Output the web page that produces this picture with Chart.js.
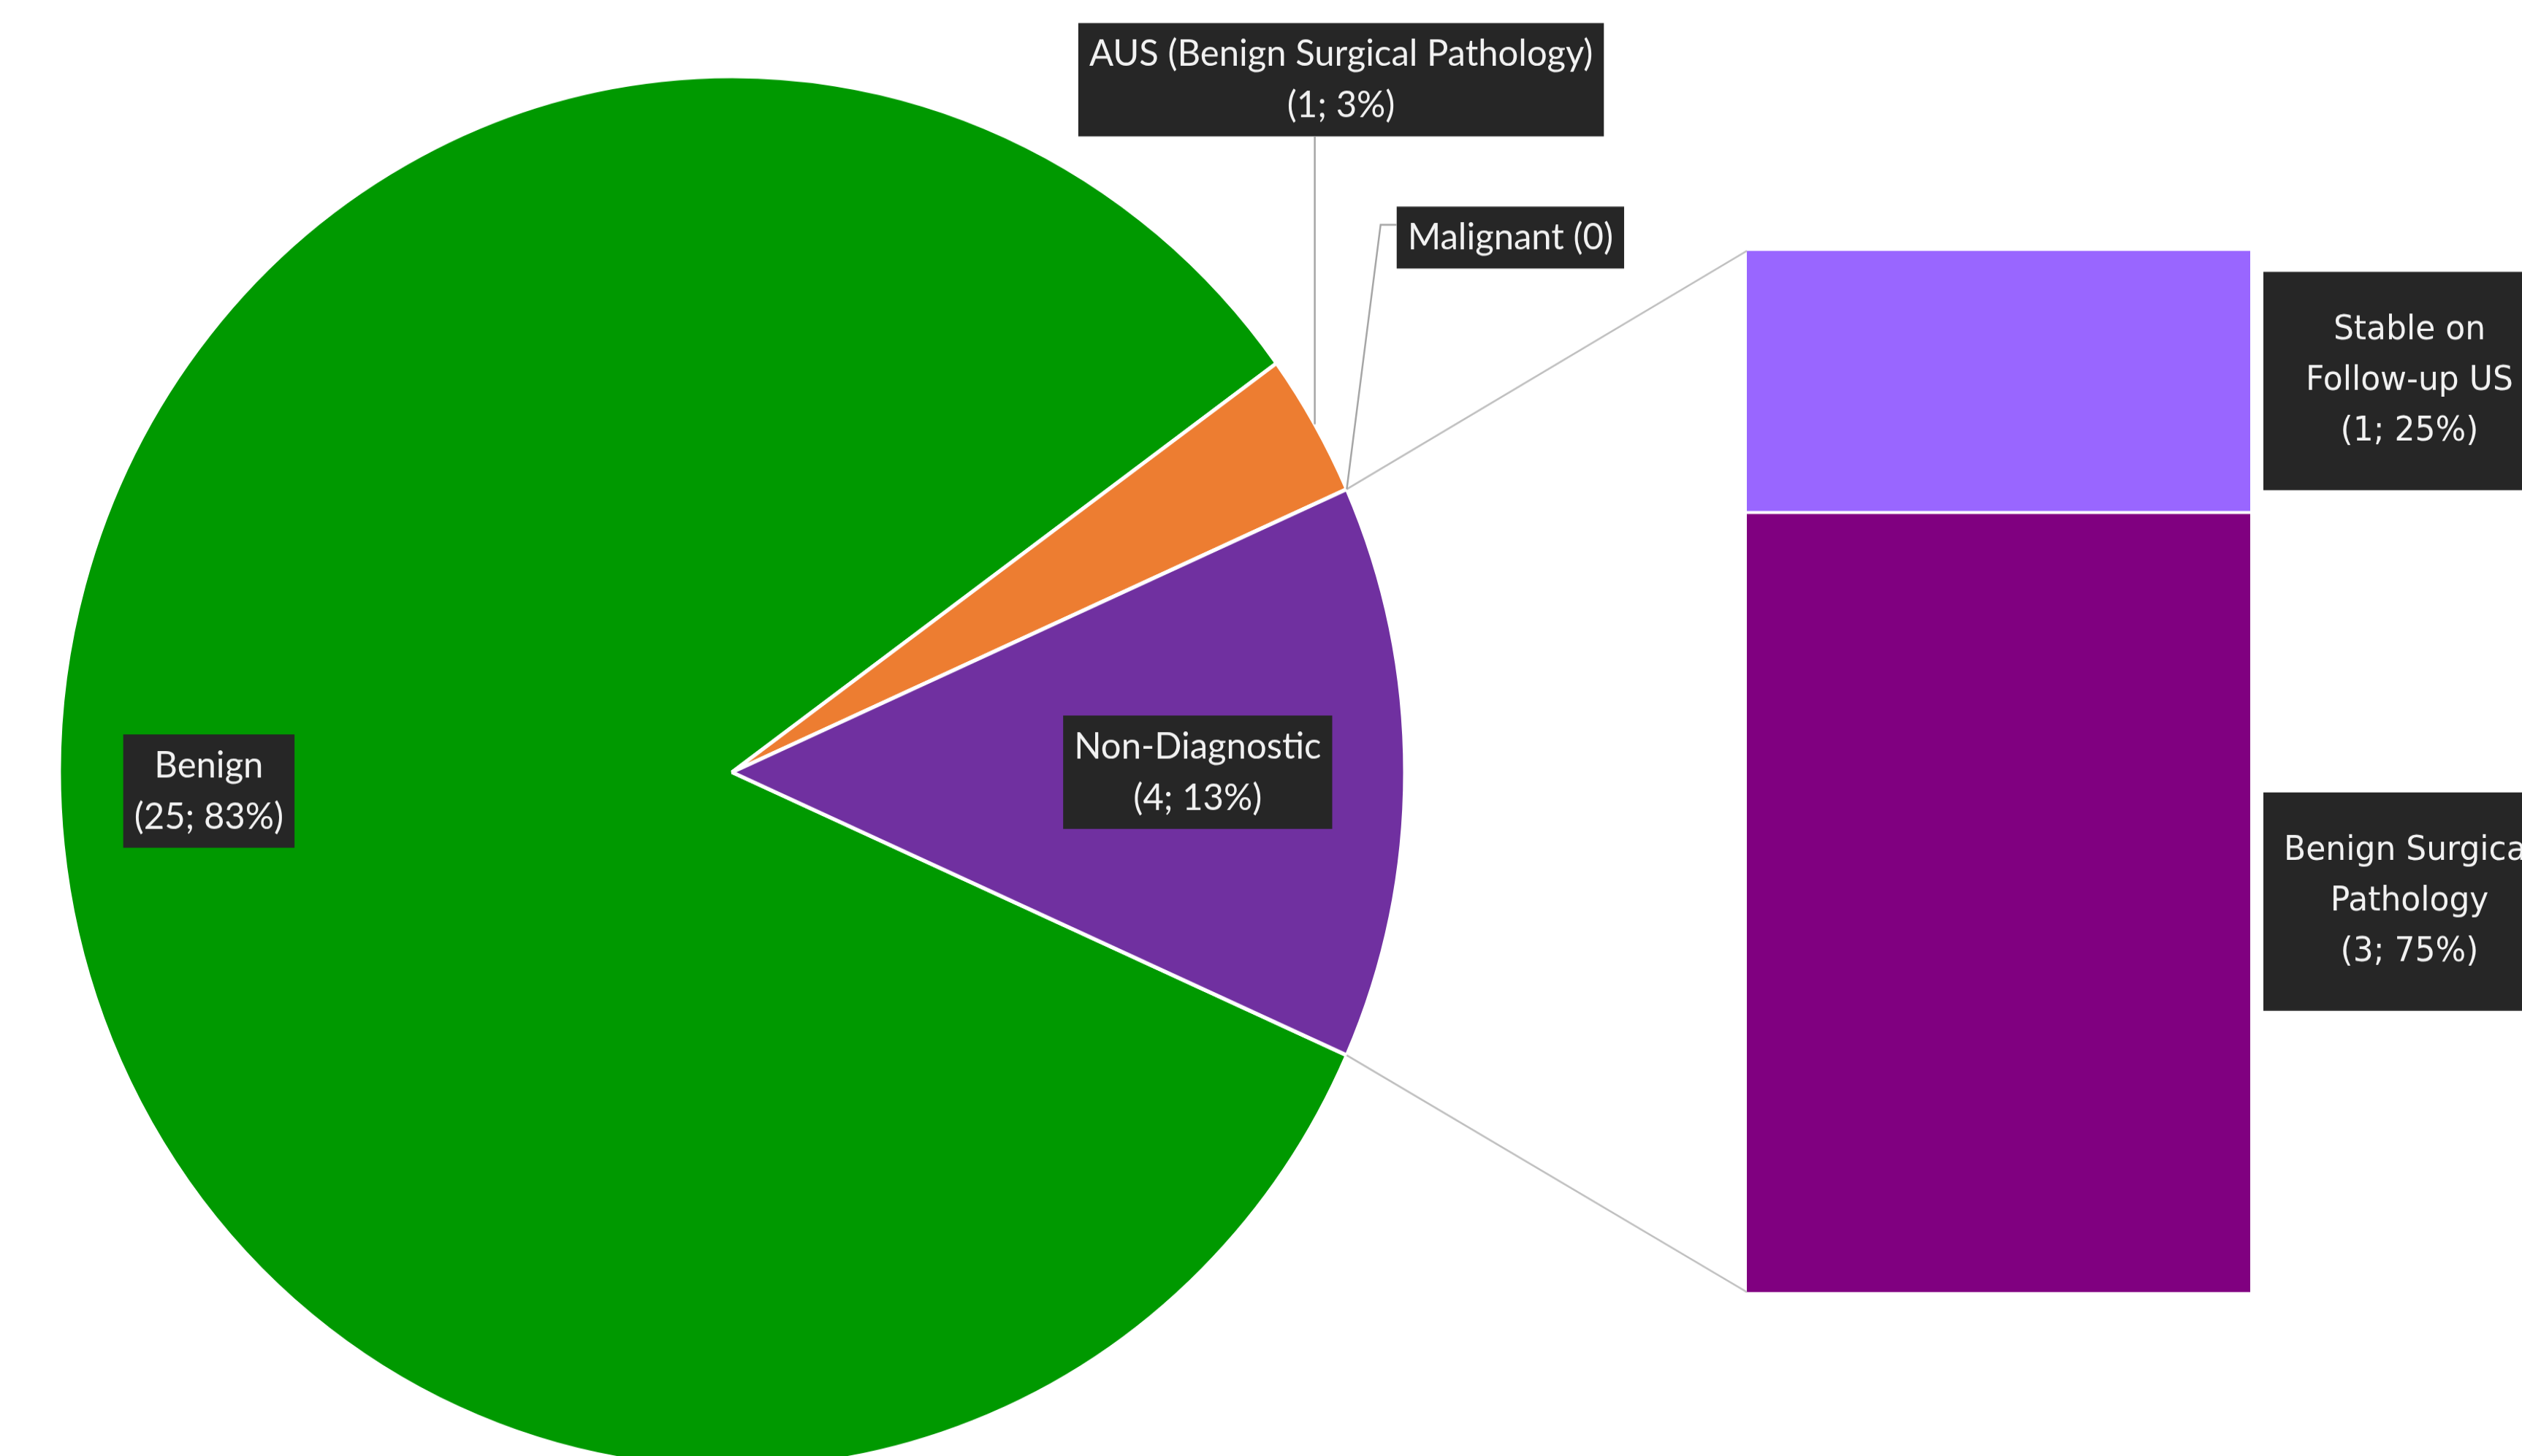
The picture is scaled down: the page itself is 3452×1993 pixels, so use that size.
<!DOCTYPE html>
<html>
<head>
<meta charset="utf-8">
<title>Bar of pie</title>
<script src="https://cdn.jsdelivr.net/npm/chart.js@4.4.0/dist/chart.umd.min.js"></script>
<style>
  html, body { margin: 0; padding: 0; background: #fff; overflow: hidden; }
  #stage { position: relative; width: 3452px; height: 1993px; }
  #stage canvas { position: absolute; left: 0; top: 0; }
</style>
</head>
<body>
<div id="stage">
  <!-- drawn at 3452x1927 and shown at 3452x1993: the reference is a bit taller than wide -->
  <canvas id="barChart" width="3452" height="1927" style="width:3452px;height:1993px"></canvas>
  <canvas id="pieChart" width="3452" height="1927" style="width:3452px;height:1993px"></canvas>
</div>
<script>
'use strict'

// main pie
let pieLabels = ['Benign', 'AUS (Benign Surgical Pathology)', 'Malignant', 'Non-Diagnostic'];
let pieCounts = [25, 1, 0, 4];
let pieColors = ['#009900', '#ED7D31', '#C00000', '#7030A0'];

// what happened to the Non-Diagnostic ones (bottom to top)
let splitLabels = ['Benign Surgical Pathology', 'Stable on Follow-up US'];
let splitCounts = [3, 1];
let splitColors = ['#800080', '#9966FF'];

function sum(arr) {
  return arr.reduce((a, b) => a + b, 0);
}

function labelLines(name, count, total) {
  if (count === 0) {
    return [name + ' (' + count + ')'];
  }
  return [name, '(' + count + '; ' + Math.round(count / total * 100) + '%)'];
}

function wrapWords(ctx, text, maxWidth) {
  let words = text.split(' ');
  let lines = [];
  let line = '';
  for (let i = 0; i < words.length; i++) {
    let test = line ? line + ' ' + words[i] : words[i];
    if (line && ctx.measureText(test).width > maxWidth) {
      lines.push(line);
      line = words[i];
    } else {
      line = test;
    }
  }
  lines.push(line);
  return lines;
}

// dark label box, text centred in it
function drawBox(ctx, lines, cx, cy, o) {
  ctx.font = o.font;
  let w = 0;
  lines.forEach(l => { w = Math.max(w, ctx.measureText(l).width); });
  let bw = o.boxWidth || (w + o.padX * 2);
  let bh = lines.length * o.lineHeight + o.padY * 2;
  let left = o.left !== undefined ? o.left : cx - bw / 2;
  let top = cy - bh / 2;
  ctx.fillStyle = '#262626';
  ctx.fillRect(left, top, bw, bh);
  ctx.fillStyle = '#F2F2F2';
  ctx.textAlign = 'center';
  ctx.textBaseline = 'middle';
  lines.forEach((l, i) => {
    ctx.fillText(l, left + bw / 2, top + o.padY + o.lineHeight * (i + 0.5));
  });
  return { left: left, right: left + bw, top: top, bottom: top + bh };
}

const pieFont = { font: '49px Lato', lineHeight: 68, padX: 15, padY: 7 };
const splitFont = { font: '44px "DejaVu Sans"', lineHeight: 67, padX: 0, padY: 44, boxWidth: 400 };

// labels to the right of the stacked bar
const splitLabelPlugin = {
  id: 'splitLabelPlugin',
  afterDatasetsDraw(chart) {
    let ctx = chart.ctx;
    let total = sum(splitCounts);
    ctx.save();
    ctx.font = splitFont.font;
    chart.data.datasets.forEach((ds, i) => {
      let bar = chart.getDatasetMeta(i).data[0];
      let lines = wrapWords(ctx, splitLabels[i], 360);
      lines.push('(' + splitCounts[i] + '; ' + Math.round(splitCounts[i] / total * 100) + '%)');
      let cy = (bar.y + bar.base) / 2;
      let opts = Object.assign({}, splitFont, { left: bar.x + bar.width / 2 + 18 });
      drawBox(ctx, lines, 0, cy, opts);
    });
    ctx.restore();
  }
};

const barChart = new Chart(document.getElementById('barChart'), {
  type: 'bar',
  data: {
    labels: ['Non-Diagnostic'],
    datasets: splitLabels.map((name, i) => ({
      label: name,
      data: [splitCounts[i]],
      backgroundColor: splitColors[i],
      borderColor: '#ffffff',
      borderWidth: i === 0 ? { top: 4 } : 0,
      borderSkipped: false
    }))
  },
  options: {
    responsive: false,
    animation: false,
    devicePixelRatio: 1,
    layout: { padding: { left: 2391, right: 372, top: 332, bottom: 217 } },
    datasets: { bar: { barPercentage: 1, categoryPercentage: 1 } },
    scales: {
      x: { stacked: true, display: false },
      y: { stacked: true, display: false, min: 0, max: sum(splitCounts) }
    },
    plugins: { legend: { display: false }, tooltip: { enabled: false } }
  },
  plugins: [splitLabelPlugin]
});

// where each pie label goes
const piePlace = [
  { inside: true, dist: 0.778, turn: 4 },
  { inside: false, from: 'mid', dx: 36, dy: -456, leader: 'vertical' },
  { inside: false, from: 'start', dx: 224, dy: -333, leader: 'elbow' },
  { inside: true, dist: 0.692, turn: 0 }
];

const pieLabelPlugin = {
  id: 'pieLabelPlugin',
  afterDatasetsDraw(chart) {
    let ctx = chart.ctx;
    let arcs = chart.getDatasetMeta(0).data;
    let total = sum(pieCounts);
    ctx.save();

    // lines from the Non-Diagnostic slice to the bar
    let nd = arcs[3];
    let barTop = barChart.getDatasetMeta(1).data[0];
    let barBottom = barChart.getDatasetMeta(0).data[0];
    let barLeft = barTop.x - barTop.width / 2;
    ctx.strokeStyle = '#BFBFBF';
    ctx.lineWidth = 2.5;
    ctx.beginPath();
    ctx.moveTo(nd.x + Math.cos(nd.startAngle) * nd.outerRadius, nd.y + Math.sin(nd.startAngle) * nd.outerRadius);
    ctx.lineTo(barLeft, barTop.y);
    ctx.moveTo(nd.x + Math.cos(nd.endAngle) * nd.outerRadius, nd.y + Math.sin(nd.endAngle) * nd.outerRadius);
    ctx.lineTo(barLeft, barBottom.base);
    ctx.stroke();

    arcs.forEach((arc, i) => {
      let p = piePlace[i];
      let lines = labelLines(pieLabels[i], pieCounts[i], total);
      let mid = (arc.startAngle + arc.endAngle) / 2;
      if (p.inside) {
        let a = mid + p.turn * Math.PI / 180;
        let r = arc.outerRadius * p.dist;
        drawBox(ctx, lines, arc.x + Math.cos(a) * r, arc.y + Math.sin(a) * r, pieFont);
      } else {
        let a = p.from === 'mid' ? mid : arc.startAngle;
        let ex = arc.x + Math.cos(a) * arc.outerRadius;
        let ey = arc.y + Math.sin(a) * arc.outerRadius;
        let box = drawBox(ctx, lines, ex + p.dx, ey + p.dy, pieFont);
        ctx.strokeStyle = '#A6A6A6';
        ctx.lineWidth = 2.5;
        ctx.beginPath();
        ctx.moveTo(ex, ey);
        if (p.leader === 'vertical') {
          ctx.lineTo(ex, box.bottom);
        } else {
          let ly = (box.top + box.bottom) / 2 - 17;
          ctx.lineTo(box.left - 22, ly);
          ctx.lineTo(box.left, ly);
        }
        ctx.stroke();
      }
    });
    ctx.restore();
  }
};

const pieChart = new Chart(document.getElementById('pieChart'), {
  type: 'pie',
  data: {
    labels: pieLabels,
    datasets: [{
      data: pieCounts,
      backgroundColor: pieColors,
      borderColor: '#ffffff',
      borderWidth: 5,
      clip: false
    }]
  },
  options: {
    responsive: false,
    animation: false,
    devicePixelRatio: 1,
    rotation: 114,
    radius: 921,
    layout: { padding: { left: 0, right: 1448, top: 117, bottom: 0 } },
    plugins: { legend: { display: false }, tooltip: { enabled: false } }
  },
  plugins: [pieLabelPlugin]
});
</script>
</body>
</html>
